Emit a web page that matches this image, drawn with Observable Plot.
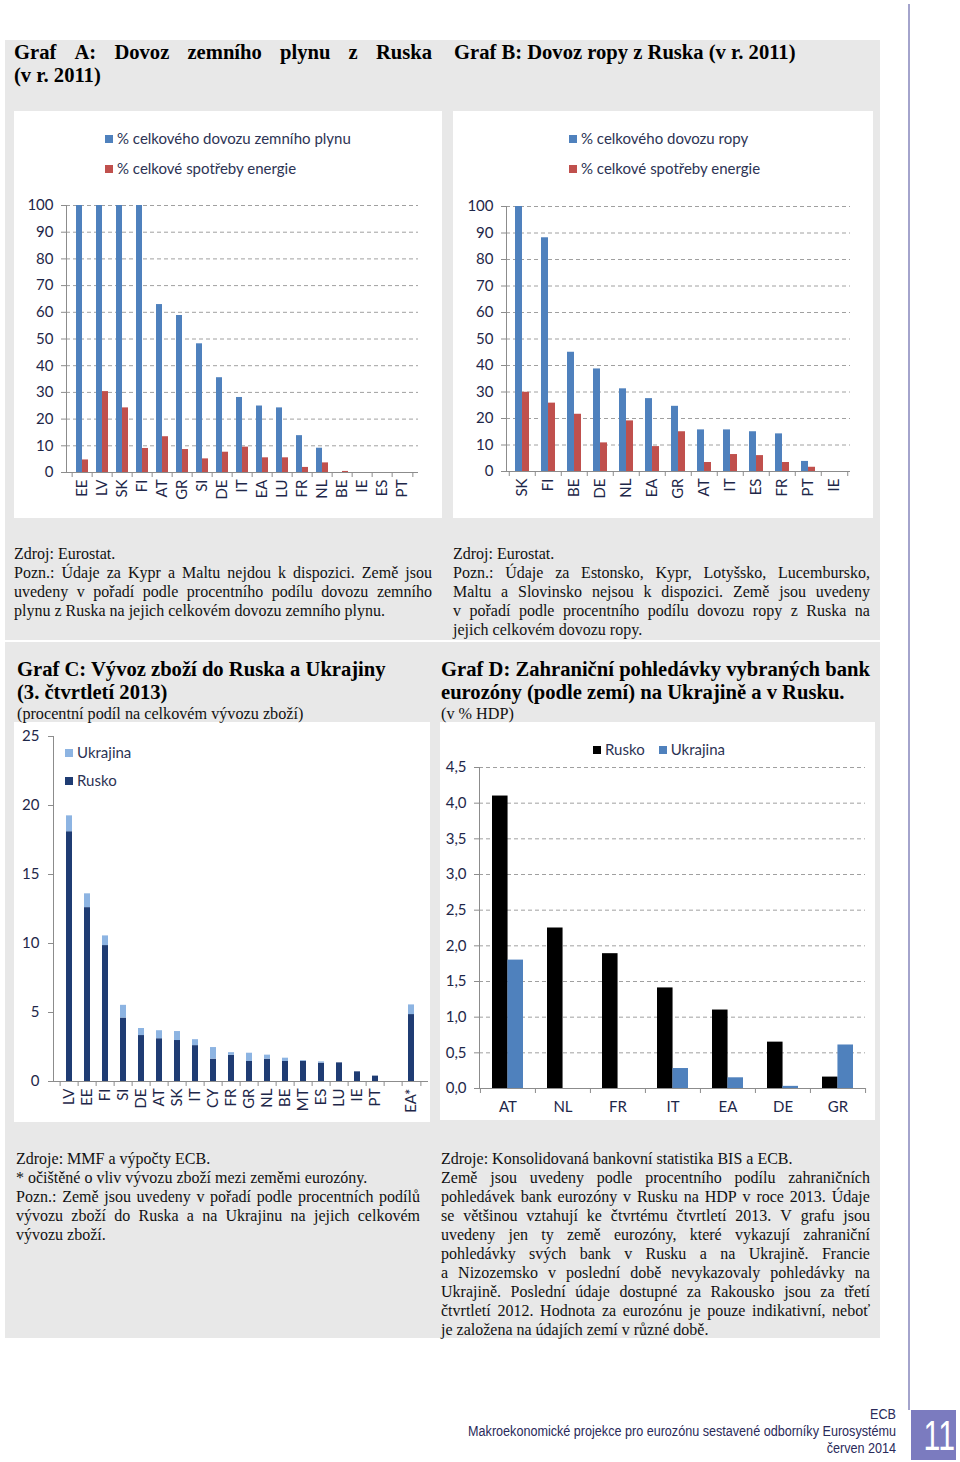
<!DOCTYPE html>
<html><head><meta charset="utf-8">
<script src="https://cdn.jsdelivr.net/npm/d3@7"></script>
<script src="https://cdn.jsdelivr.net/npm/@observablehq/plot@0.6"></script>
<style>
body{margin:0;width:960px;height:1462px;position:relative;background:#fff;font-family:"Liberation Serif","Times New Roman",serif;overflow:hidden}
.a{position:absolute}
.panel{background:#e8e8e8}
.box{background:#fff}
.title{font-weight:bold;font-size:20.6px;line-height:23px;color:#000;white-space:nowrap}
.sub{font-size:16.2px;line-height:19px;color:#111;white-space:nowrap}
.notes{font-size:16px;line-height:19px;color:#111;white-space:nowrap}
.j{display:flex;justify-content:space-between}
.lg{font-family:Lato,"Open Sans",sans-serif;font-size:15px;color:#2c3354;white-space:nowrap}
.sq{display:inline-block;width:8px;height:8px;margin-right:4px;vertical-align:1px}
.foot{font-family:"Liberation Sans Narrow","Liberation Sans",sans-serif;font-size:14px;line-height:17px;color:#2a2a5a;text-align:right;white-space:nowrap}
</style></head>
<body>
<script>
// ---------- DATA ----------
// Graf A
const gasCountries = ["EE","LV","SK","FI","AT","GR","SI","DE","IT","EA","LU","FR","NL","BE","IE","ES","PT"];
const gasImportShare = [100,100,100,100,62.9,58.8,48.2,35.5,28.1,24.9,24.2,13.8,9.1,0,0,0,0];
const gasEnergyShare = [4.7,30.3,24.2,9.0,13.4,8.6,5.1,7.6,9.5,5.5,5.5,1.9,3.6,0.4,0,0,0];
const ticksAB = [0,10,20,30,40,50,60,70,80,90,100];
// Graf B
const oilCountries = ["SK","FI","BE","DE","NL","EA","GR","AT","IT","ES","FR","PT","IE"];
const oilImportShare = [100,88.2,45.0,38.7,31.2,27.5,24.6,15.7,15.7,15.0,14.2,3.8,0];
const oilEnergyShare = [29.9,25.8,21.6,10.8,19.1,9.4,15.0,3.4,6.4,6.0,3.4,1.6,0];
// Graf C
const exportCountries = ["LV","EE","FI","SI","DE","AT","SK","IT","CY","FR","GR","NL","BE","MT","ES","LU","IE","PT","","EA*"];
const exportRussia  = [18.1,12.6,9.85,4.6,3.33,3.1,2.97,2.6,1.62,1.9,1.45,1.62,1.45,1.47,1.33,1.35,0.7,0.39,null,4.85];
const exportUkraine = [1.15,1.0,0.7,0.92,0.51,0.58,0.65,0.43,0.84,0.19,0.6,0.29,0.24,0.05,0.09,0,0,0,null,0.7];
const ticksC = [0,5,10,15,20,25];
const seriesC = ["Rusko","Ukrajina"];
// Graf D
const claimCountries = ["AT","NL","FR","IT","EA","DE","GR"];
const claimsRussia  = [4.1,2.25,1.89,1.41,1.1,0.65,0.16];
const claimsUkraine = [1.8,0,0,0.28,0.15,0.03,0.61];
const ticksD = [0,0.5,1,1.5,2,2.5,3,3.5,4,4.5];

// ---------- STYLES ----------
const BLUE="#4f81bd", RED="#c0504d", NAVY="#1f3c73", LIGHT="#8db4e2", BLACK="#000";
const LABEL="#1e2749", AXIS="#8c8c8c", GRID="#a0a0a0";

function panel(cls,x,y,w,h){const d=document.createElement("div");d.className="a "+cls;Object.assign(d.style,{left:x+"px",top:y+"px",width:w+"px",height:h+"px"});document.body.appendChild(d);return d;}
function lines(x,y,w,cls,arr){const d=document.createElement("div");d.className="a "+cls;Object.assign(d.style,{left:x+"px",top:y+"px",width:w+"px"});
  arr.forEach(([t,j])=>{const l=document.createElement("div");
    if(j){l.className="j";t.split(" ").forEach(wd=>{const s=document.createElement("span");s.textContent=wd;l.appendChild(s);});}
    else l.textContent=t;
    d.appendChild(l);});document.body.appendChild(d);return d;}
function legend(x,y,items,vertical,gap){const d=document.createElement("div");d.className="a lg";Object.assign(d.style,{left:x+"px",top:y+"px"});
  items.forEach(([c,t],i)=>{const s=document.createElement(vertical?"div":"span");if(vertical)s.style.marginBottom=gap+"px";else if(i)s.style.marginLeft=gap+"px";
    s.innerHTML=`<span class="sq" style="background:${c}"></span>`;s.appendChild(document.createTextNode(t));d.appendChild(s);});document.body.appendChild(d);}

const baseStyle={fontFamily:"Lato, 'Open Sans', sans-serif",fontSize:"15px",color:LABEL,background:"transparent",overflow:"visible"};

function boundaryTicks(domain,step){
  return [Plot.axisX({tickSize:5,fill:"none",stroke:AXIS,dx:-step/2,label:null}),
          Plot.axisX({ticks:[domain[domain.length-1]],tickSize:5,fill:"none",stroke:AXIS,dx:step/2,label:null})];
}

function pairChart({countries,v1,v2,c1,c2,width,height,ml,mr,mt,mb,domain,ticks,pad,fmt,rotate,grid}){
  const rows=countries.map((c,i)=>({c,a:v1[i],b:v2[i]}));
  const step=(width-ml-mr)/countries.length;
  const bw=step*(1-pad);
  return Plot.plot({width,height,marginLeft:ml,marginRight:mr,marginTop:mt,marginBottom:mb,style:baseStyle,
    x:{domain:countries,paddingInner:pad,paddingOuter:pad/2,label:null},
    y:{domain,label:null},
    marks:[
      grid?Plot.gridY({ticks:ticks.slice(1),stroke:GRID,strokeOpacity:1,strokeDasharray:"4,3"}):null,
      Plot.barY(rows,{x:"c",y:"a",fill:c1,insetRight:bw/2}),
      Plot.barY(rows,{x:"c",y:"b",fill:c2,insetLeft:bw/2}),
      Plot.ruleY([0],{stroke:AXIS}),
      Plot.frame({anchor:"left",stroke:AXIS}),
      Plot.axisY({ticks,tickSize:5,tickPadding:8,stroke:AXIS,fill:LABEL,tickFormat:fmt,label:null}),
      Plot.axisX({tickSize:0,tickPadding:rotate?7:13,tickRotate:rotate?-90:0,fill:LABEL,label:null}),
      ...boundaryTicks(countries,step)
    ]});
}

// ---------- LAYOUT ----------
panel("panel",5,40,875,600);
panel("panel",5,642,875,696);
panel("box",14,111,428,407);
panel("box",453,111,420,407);
panel("box",14,722,416,400);
panel("box",440,722,435,398);

// side line & page number
const vl=panel("",908,4,2,1406);vl.style.background="#a4a4cc";
const pn=panel("",911,1410,45,50);pn.style.background="#7b7bbf";
pn.innerHTML='<div class="foot" style="color:#fff;font-size:42px;line-height:52px;transform:scaleX(0.72);transform-origin:right center;padding-right:3px">11</div>';

lines(14,41,418,"title",[["Graf A: Dovoz zemního plynu z Ruska",true],["(v r. 2011)",false]]);
lines(454,41,420,"title",[["Graf B: Dovoz ropy z Ruska (v r. 2011)",false]]);
lines(14,544,418,"notes",[["Zdroj: Eurostat.",false],["Pozn.: Údaje za Kypr a Maltu nejdou k dispozici. Země jsou",true],["uvedeny v pořadí podle procentního podílu dovozu zemního",true],["plynu z Ruska na jejich celkovém dovozu zemního plynu.",false]]);
lines(453,544,417,"notes",[["Zdroj: Eurostat.",false],["Pozn.: Údaje za Estonsko, Kypr, Lotyšsko, Lucembursko,",true],["Maltu a Slovinsko nejsou k dispozici. Země jsou uvedeny",true],["v pořadí podle procentního podílu dovozu ropy z Ruska na",true],["jejich celkovém dovozu ropy.",false]]);
lines(17,658,420,"title",[["Graf C: Vývoz zboží do Ruska a Ukrajiny",false],["(3. čtvrtletí 2013)",false]]);
lines(17,705,420,"sub",[["(procentní podíl na celkovém vývozu zboží)",false]]);
lines(441,658,429,"title",[["Graf D: Zahraniční pohledávky vybraných bank",true],["eurozóny (podle zemí) na Ukrajině a v Rusku.",false]]);
lines(441,705,420,"sub",[["(v % HDP)",false]]);
lines(16,1149,404,"notes",[["Zdroje: MMF a výpočty ECB.",false],["* očištěné o vliv vývozu zboží mezi zeměmi eurozóny.",false],["Pozn.: Země jsou uvedeny v pořadí podle procentních podílů",true],["vývozu zboží do Ruska a na Ukrajinu na jejich celkovém",true],["vývozu zboží.",false]]);
lines(441,1149,429,"notes",[["Zdroje: Konsolidovaná bankovní statistika BIS a ECB.",false],
 ["Země jsou uvedeny podle procentního podílu zahraničních",true],
 ["pohledávek bank eurozóny v Rusku na HDP v roce 2013. Údaje",true],
 ["se většinou vztahují ke čtvrtému čtvrtletí 2013. V grafu jsou",true],
 ["uvedeny jen ty země eurozóny, které vykazují zahraniční",true],
 ["pohledávky svých bank v Rusku a na Ukrajině. Francie",true],
 ["a Nizozemsko v poslední době nevykazovaly pohledávky na",true],
 ["Ukrajině. Poslední údaje dostupné za Rakousko jsou za třetí",true],
 ["čtvrtletí 2012. Hodnota za eurozónu je pouze indikativní, neboť",true],
 ["je založena na údajích zemí v různé době.",false]]);
const ft=lines(396,1406,500,"foot",[["ECB",false],["Makroekonomické projekce pro eurozónu sestavené odborníky Eurosystému",false],["červen 2014",false]]);
ft.style.transform="scaleX(0.9)";ft.style.transformOrigin="right top";

// ---------- CHARTS ----------
function place(svg,x,y){const d=document.createElement("div");d.className="a";d.style.left=x+"px";d.style.top=y+"px";d.appendChild(svg);document.body.appendChild(d);}

place(pairChart({countries:gasCountries,v1:gasImportShare,v2:gasEnergyShare,c1:BLUE,c2:RED,width:428,height:407,ml:52,mr:24,mt:94,mb:46,domain:[0,100],ticks:ticksAB,pad:0.42,rotate:true,grid:true}),14,111);
legend(105,129,[[BLUE,"% celkového dovozu zemního plynu"],[RED,"% celkové spotřeby energie"]],true,12);

place(pairChart({countries:oilCountries,v1:oilImportShare,v2:oilEnergyShare,c1:BLUE,c2:RED,width:420,height:407,ml:53,mr:23,mt:95,mb:47,domain:[0,100],ticks:ticksAB,pad:0.47,rotate:true,grid:true}),453,111);
legend(569,129,[[BLUE,"% celkového dovozu ropy"],[RED,"% celkové spotřeby energie"]],true,12);

// Graf C stacked
const rowsC=[];
exportCountries.forEach((c,i)=>{ if(exportRussia[i]==null) return;
  rowsC.push({c,s:seriesC[0],v:exportRussia[i]}); rowsC.push({c,s:seriesC[1],v:exportUkraine[i]}); });
{
  const width=416,height=400,ml=39,mr=2,mt=14,mb=41;
  const step=(width-ml-mr)/exportCountries.length;
  const chartC=Plot.plot({width,height,marginLeft:ml,marginRight:mr,marginTop:mt,marginBottom:mb,style:baseStyle,
    x:{domain:exportCountries,paddingInner:0.64,paddingOuter:0.32,label:null},
    y:{domain:[0,25],label:null},
    color:{domain:seriesC,range:[NAVY,LIGHT]},
    marks:[
      Plot.barY(rowsC,{x:"c",y:"v",fill:"s"}),
      Plot.ruleY([0],{stroke:AXIS}),
      Plot.frame({anchor:"left",stroke:AXIS}),
      Plot.axisY({ticks:ticksC,tickSize:5,tickPadding:9,stroke:AXIS,fill:LABEL,label:null}),
      Plot.axisX({tickSize:0,tickPadding:7,tickRotate:-90,fill:LABEL,label:null}),
      ...boundaryTicks(exportCountries,step)
    ]});
  place(chartC,14,722);
}
legend(65,743,[[LIGHT,"Ukrajina"],[NAVY,"Rusko"]],true,10);

// Graf D
place(pairChart({countries:claimCountries,v1:claimsRussia,v2:claimsUkraine,c1:BLACK,c2:BLUE,width:435,height:398,ml:39,mr:10,mt:45,mb:32,domain:[0,4.5],ticks:ticksD,pad:0.44,fmt:d=>d3.format(".1f")(d).replace(".",","),rotate:false,grid:true}),440,722);
legend(593,740,[[BLACK,"Rusko"],[BLUE,"Ukrajina"]],false,14);
</script>
</body></html>
